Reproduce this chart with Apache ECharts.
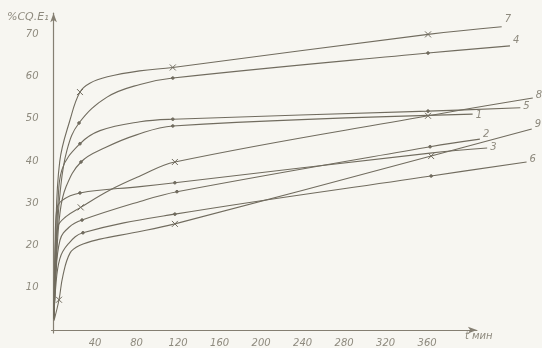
<!DOCTYPE html>
<html>
<head>
<meta charset="utf-8">
<script src="https://cdn.jsdelivr.net/npm/echarts@6/dist/echarts.min.js"></script>
<style>
  html, body { margin: 0; padding: 0; background: #f7f6f1; }
  #chart { width: 542px; height: 348px; }
</style>
</head>
<body>
<div id="chart"></div>
<script>
// Time in minutes (t) and %CQ.E₁ for each curve, as [t, value] pairs.
const curve1 = [[0.5,3],[2.5,15],[6.3,28],[12,34],[26.5,39.9],[50,43.3],[80,46.3],[115,48.4],[404,51.2]];
const curve2 = [[0.5,3],[2,12],[6.3,21.5],[15,24.5],[27.5,26.2],[83.4,30.6],[119,32.9],[363,43.5],[411,45.3]];
const curve3 = [[0.5,5],[1.5,20],[3,28.5],[8,30.8],[25.5,32.6],[83.4,34.1],[117,35],[363,42],[418,43.2]];
const curve4 = [[0.5,3],[3,20],[6.5,33],[13,42.7],[24.6,49.1],[51.6,55.2],[83.4,58.2],[115,59.7],[361,65.6],[440,67.3]];
const curve5 = [[0.5,3],[2,15],[4.3,30],[8,38],[25.5,44.2],[44.8,47.3],[83.4,49.4],[115,50],[361,51.9],[450,52.7]];
const curve6 = [[0.5,3],[2,10],[6,17],[14,20.5],[28.4,23.2],[117,27.6],[364,36.6],[456,39.9]];
const curve7 = [[0.5,4],[2,22],[6,40],[15.9,49.8],[25.5,56.4],[35,58.5],[52,60],[83,61.4],[115,62.2],[361,70],[432,71.8]];
const curve8 = [[0.5,4],[2,17],[4,24.5],[12,27],[26.2,29.2],[54.5,33.3],[83.4,36.6],[117,39.9],[361,50.8],[462,55]];
const curve9 = [[0.5,2.5],[5.3,7.4],[9,13],[15.9,18.4],[25,20.2],[44.8,21.7],[76.6,23.2],[117,25.3],[364,41.3],[461,47.7]];

// Times at which each curve carries a measured-point mark.
const dotMarks = {
  '1': [26.5, 115], '2': [27.5, 119, 363], '3': [25.5, 117],
  '4': [24.6, 115, 361], '5': [25.5, 115, 361], '6': [28.4, 117, 364]
};
const crossMarks = { '7': [25.5, 115, 361], '8': [26.2, 117, 361], '9': [5.3, 117, 364] };

// Axis tick labels.
const xTicks = [40, 80, 120, 160, 200, 240, 280, 320, 360];
const yTicks = [10, 20, 30, 40, 50, 60, 70];

const curves = { '1': curve1, '2': curve2, '3': curve3, '4': curve4, '5': curve5,
                 '6': curve6, '7': curve7, '8': curve8, '9': curve9 };

const INK = '#716c5f';
const TEXT = '#8e8a7e';
const CROSS = 'path://M0,0L10,10M10,0L0,10';

// Vertical nudge of each curve's number at its right end.
const labelShift = { '1': 1, '2': -5, '3': -1, '4': -5, '5': -1, '6': -3, '7': -7, '8': -3, '9': -5 };

function buildSeries(name) {
  const dots = dotMarks[name] || [];
  const crosses = crossMarks[name] || [];
  const data = curves[name].map(p => {
    if (crosses.includes(p[0])) return { value: p, symbol: CROSS, symbolSize: 6 };
    if (dots.includes(p[0])) return { value: p, symbol: 'circle', symbolSize: 2.6 };
    return { value: p, symbol: 'none' };
  });
  return {
    name: name,
    type: 'line',
    xAxisIndex: 1,
    yAxisIndex: 1,
    data: data,
    smooth: 0.4,
    showSymbol: true,
    showAllSymbol: true,
    lineStyle: { color: INK, width: 1.1 },
    itemStyle: { color: INK, borderColor: INK, borderWidth: 1 },
    emphasis: { disabled: true },
    endLabel: {
      show: true,
      formatter: name,
      color: TEXT,
      fontSize: 10,
      fontStyle: 'italic',
      fontFamily: 'DejaVu Sans',
      distance: 3,
      offset: [0, labelShift[name]]
    }
  };
}

const axisText = { color: TEXT, fontSize: 10, fontStyle: 'italic', fontFamily: 'DejaVu Sans' };

const chart = echarts.init(document.getElementById('chart'), null, { renderer: 'canvas' });
chart.setOption({
  backgroundColor: '#f7f6f1',
  animation: false,
  grid: [
    { left: 51.5, top: 13.2, width: 425.4, height: 320.9 },
    { left: 53.5, top: 13.2, width: 487.6, height: 320.9 }
  ],
  xAxis: [
    {
      gridIndex: 0, type: 'value', min: -2, max: 408,
      axisLine: { show: true, symbol: ['none', 'arrow'], symbolSize: [5, 9],
                  lineStyle: { color: '#857f72', width: 1.2 } },
      axisTick: { show: false },
      splitLine: { show: false },
      axisLabel: Object.assign({ customValues: xTicks, margin: 5 }, axisText),
      name: 't мин',
      nameLocation: 'end',
      nameGap: -12,
      nameTextStyle: Object.assign({ verticalAlign: 'top', padding: [1, 0, 0, 0] }, axisText)
    },
    { gridIndex: 1, type: 'value', min: 0, max: 470, show: false }
  ],
  yAxis: [
    {
      gridIndex: 0, type: 'value', min: -0.7, max: 75,
      axisLine: { show: true, symbol: ['none', 'arrow'], symbolSize: [5, 9],
                  lineStyle: { color: '#857f72', width: 1.2 } },
      axisTick: { show: false },
      splitLine: { show: false },
      axisLabel: Object.assign({ customValues: yTicks, margin: 13 }, axisText),
      name: '%CQ.E₁',
      nameLocation: 'end',
      nameGap: -4,
      nameTextStyle: Object.assign({ align: 'right', verticalAlign: 'middle', padding: [0, 5, 0, 0] },
                                   axisText, { fontSize: 11 })
    },
    { gridIndex: 1, type: 'value', min: -0.7, max: 75, show: false }
  ],
  series: Object.keys(curves).map(buildSeries)
});
</script>
</body>
</html>
